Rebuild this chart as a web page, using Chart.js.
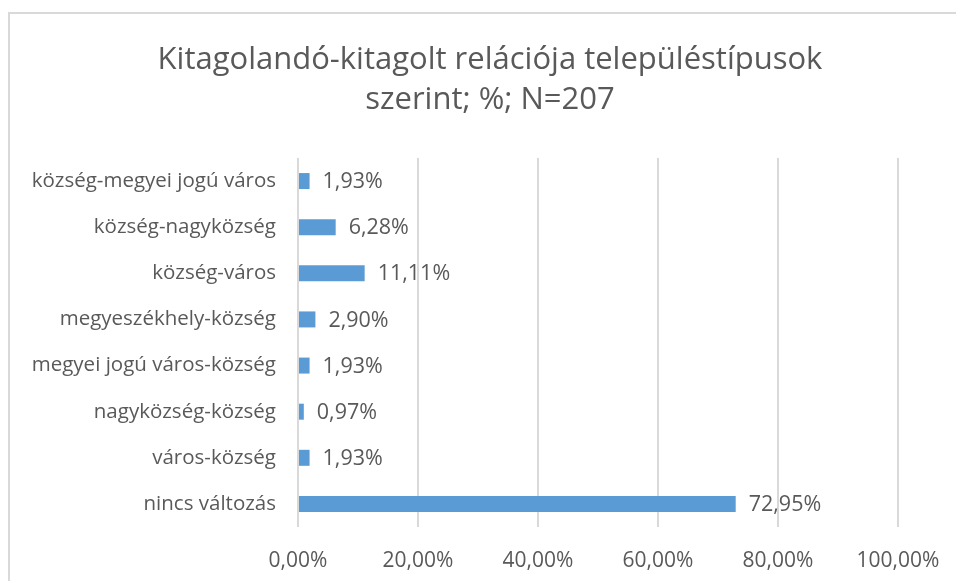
<!DOCTYPE html>
<html>
<head>
<meta charset="utf-8">
<script src="https://cdn.jsdelivr.net/npm/chart.js@4"></script>
<style>
  html, body { margin: 0; padding: 0; background: #fff; }
  #wrap { position: relative; width: 956px; height: 581px; }
  #frame { position: absolute; left: 8px; top: 12px; right: -4px; bottom: -4px; border-left: 2px solid #d9d9d9; border-top: 2px solid #d9d9d9; }
  canvas { position: absolute; left: 0; top: 0; }
</style>
</head>
<body>
<div id="wrap">
  <div id="frame"></div>
  <canvas id="c" width="956" height="581"></canvas>
</div>
<script>
const titleLines = ["Kitagolandó-kitagolt relációja településtípusok", "szerint; %; N=207"];
const categories = [
  "község-megyei jogú város",
  "község-nagyközség",
  "község-város",
  "megyeszékhely-község",
  "megyei jogú város-község",
  "nagyközség-község",
  "város-község",
  "nincs változás"
];
const values = [1.93, 6.28, 11.11, 2.90, 1.93, 0.97, 1.93, 72.95];
const xTicks = [0, 20, 40, 60, 80, 100];

const FONT = "'Open Sans', 'Liberation Sans', sans-serif";
const TEXT = "#595959";
const fmt = v => v.toFixed(2).replace('.', ',') + '%';

const titleDraw = {
  id: 'titleDraw',
  afterDraw(chart) {
    const ctx = chart.ctx;
    ctx.save();
    ctx.font = "31px " + FONT;
    ctx.fillStyle = TEXT;
    ctx.textAlign = 'center';
    ctx.textBaseline = 'middle';
    titleLines.forEach((t, i) => ctx.fillText(t, 490, 60 + i * 40));
    ctx.restore();
  }
};

const dataLabels = {
  id: 'dataLabels',
  afterDatasetsDraw(chart) {
    const ctx = chart.ctx;
    const meta = chart.getDatasetMeta(0);
    ctx.save();
    ctx.font = "21.5px " + FONT;
    ctx.fillStyle = TEXT;
    ctx.textAlign = 'left';
    ctx.textBaseline = 'middle';
    meta.data.forEach((el, i) => {
      ctx.fillText(fmt(values[i]), el.x + 13, el.y + 1);
    });
    ctx.restore();
  }
};

new Chart(document.getElementById('c'), {
  type: 'bar',
  data: {
    labels: categories,
    datasets: [{
      data: values,
      backgroundColor: '#5b9bd5',
      borderWidth: 0,
      barPercentage: 0.347,
      categoryPercentage: 1
    }]
  },
  options: {
    indexAxis: 'y',
    responsive: false,
    animation: false,
    layout: { padding: { top: 158, right: 58, bottom: 0, left: 0 } },
    plugins: {
      legend: { display: false },
      tooltip: { enabled: false },
      title: { display: false }
    },
    scales: {
      x: {
        min: 0, max: 100,
        afterBuildTicks(scale) { scale.ticks = xTicks.map(v => ({ value: v })); },
        afterFit(scale) { scale.height = 54; scale.paddingLeft = 0; scale.paddingRight = 0; },
        grid: { color: '#d9d9d9', lineWidth: 2, drawTicks: false },
        border: { display: false },
        ticks: {
          color: TEXT,
          font: { family: FONT, size: 21 },
          padding: 21,
          callback: v => fmt(v)
        }
      },
      y: {
        afterFit(scale) { scale.width = 298; scale.paddingTop = 0; scale.paddingBottom = 0; },
        grid: { display: false, drawTicks: false },
        border: { display: false },
        ticks: {
          color: TEXT,
          font: { family: FONT, size: 20.5 },
          padding: 22
        }
      }
    }
  },
  plugins: [dataLabels, titleDraw]
});
</script>
</body>
</html>
